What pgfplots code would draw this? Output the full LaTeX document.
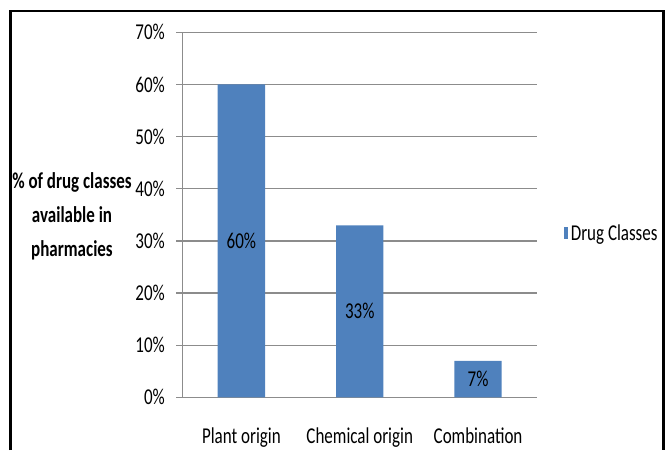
\documentclass[border=0pt]{standalone}
\usepackage{fontspec}
\setmainfont{Carlito}[FakeStretch=0.75]
\usepackage{pgfplots}
\pgfplotsset{compat=1.18}
\definecolor{barblue}{HTML}{4F81BD}
\definecolor{gridgray}{HTML}{8C8C8C}
\begin{document}
\begin{tikzpicture}[x=0.75pt,y=0.75pt]
\useasboundingbox (0,0) rectangle (666,450);
\draw[line width=2.2pt] (10.5,0) -- (10.5,439) -- (663.5,439) -- (663.5,0);
\node[font=\fontsize{17}{25.5}\selectfont\bfseries, align=center] at (72,234)
  {\% of drug classes\\available in\\pharmacies};
\begin{axis}[
  at={(154,101)}, anchor=south west,
  width=266.25pt, height=273.75pt, scale only axis,
  xmin=-0.5, xmax=2.5, ymin=0, ymax=70,
  axis x line*=bottom, axis y line*=left,
  axis line style={gridgray, line width=0.9pt},
  every outer x axis line/.append style={-},
  every outer y axis line/.append style={-},
  ytick={0,10,...,70},
  yticklabel={\pgfmathprintnumber{\tick}\%},
  /pgf/number format/assume math mode=true,
  ymajorgrids, grid style={gridgray, line width=0.9pt},
  xtick={0,1,2},
  xticklabels={Plant origin, Chemical origin, Combination},
  x tick style={draw=none},
  extra x ticks={-0.5,0.5,1.5,2.5},
  extra x tick labels={},
  extra x tick style={major tick length=6pt, tick style={draw=gridgray, line width=0.9pt}, grid=none},
  tick align=outside,
  y tick style={draw=gridgray, line width=0.9pt},
  major tick length=4.5pt,
  ticklabel style={font=\fontsize{17}{20}\selectfont},
  xticklabel style={yshift=-15pt},
  yticklabel style={xshift=-5pt},
  legend style={at={(1,0.449)}, anchor=west, xshift=20pt, draw=none, fill=none,
    inner sep=0pt, font=\fontsize{17}{20}\selectfont},
  legend image code/.code={\fill[barblue] (0pt,-4.5pt) rectangle (3pt,4.5pt);},
  clip=false,
]
\addplot[ybar, bar width=0.4, fill=barblue, draw=none] coordinates {(0,60) (1,33) (2,7)};
\addlegendentry{Drug Classes}
\addplot[draw=none, mark=none, forget plot, nodes near coords, nodes near coords align=center,
  point meta=explicit symbolic,
  every node near coord/.append style={font=\fontsize{17}{20}\selectfont, text=black}]
  coordinates {(0,30) [60\%] (1,16.5) [33\%] (2,3.5) [7\%]};
\end{axis}
\end{tikzpicture}
\end{document}
